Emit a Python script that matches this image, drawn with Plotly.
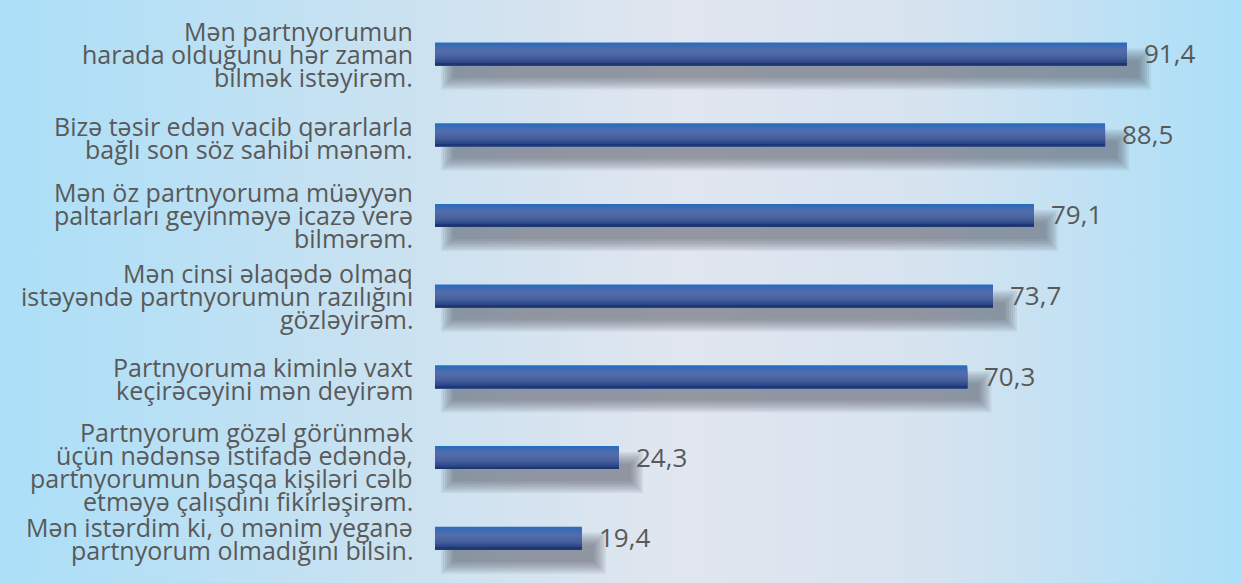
import base64
import plotly.graph_objects as go

labels = [
    ["Mən partnyorumun", "harada olduğunu hər zaman", "bilmək istəyirəm."],
    ["Bizə təsir edən vacib qərarlarla", "bağlı son söz sahibi mənəm."],
    ["Mən öz partnyoruma müəyyən", "paltarları geyinməyə icazə verə", "bilmərəm."],
    ["Mən cinsi əlaqədə olmaq", "istəyəndə partnyorumun razılığını", "gözləyirəm."],
    ["Partnyoruma kiminlə vaxt", "keçirəcəyini mən deyirəm"],
    ["Partnyorum gözəl görünmək", "üçün nədənsə istifadə edəndə,", "partnyorumun başqa kişiləri cəlb", "etməyə çalışdını fikirləşirəm."],
    ["Mən istərdim ki, o mənim yeganə", "partnyorum olmadığını bilsin."],
]
values = [91.4, 88.5, 79.1, 73.7, 70.3, 24.3, 19.4]
value_text = ["91,4", "88,5", "79,1", "73,7", "70,3", "24,3", "19,4"]

W, H = 1241, 583
X0 = 435
PPU = (1127 - X0) / 91.4          # pixels per unit on x
XMAX = (W - X0) / PPU
SP = 80.7                          # pixels per category
R0 = -54 / SP
R1 = R0 + H / SP
BAR_H = 23 / SP
ypos = list(range(len(values)))

fig = go.Figure()

# shadows (blurred by layering)
sx = 15 / PPU
sy = 15 / SP
for e in [9, 7, 5, 3, 1, -1, -3]:
    ex = e / PPU
    ey = e / SP
    fig.add_trace(go.Bar(
        orientation="h", y=ypos, x=[v + 2 * ex for v in values],
        base=[sx - ex] * len(values),
        width=BAR_H + 2 * ey, offset=-BAR_H / 2 + sy - ey,
        marker=dict(color="rgba(70,78,88,0.095)", line=dict(width=0)),
        hoverinfo="skip", showlegend=False))

# bars with vertical gradient built from overlapping strips
stops = [(0.0, (26, 112, 198)), (0.1, (56, 106, 182)), (0.35, (84, 110, 172)),
         (0.65, (70, 96, 158)), (0.88, (42, 68, 132)), (1.0, (22, 48, 108))]


def col(t):
    for (t0, c0), (t1, c1) in zip(stops[:-1], stops[1:]):
        if t0 <= t <= t1:
            f = (t - t0) / (t1 - t0)
            return "rgb(%d,%d,%d)" % tuple(round(a + (b - a) * f) for a, b in zip(c0, c1))
    return "rgb(%d,%d,%d)" % stops[-1][1]


N = 12
for k in range(N):
    fig.add_trace(go.Bar(
        orientation="h", y=ypos, x=values,
        width=BAR_H * (1 - k / N), offset=-BAR_H / 2 + k * BAR_H / N,
        marker=dict(color=col((k + 0.5) / N), line=dict(width=0)),
        hoverinfo="skip", showlegend=False))

annotations = []
LS = 23.0
FS = 25
extra = {1: -3, 4: -2, 5: -9}
for i, lines in enumerate(labels):
    n = len(lines)
    for j, line in enumerate(lines):
        annotations.append(dict(
            xref="paper", yref="y", x=415 / W, y=i, xanchor="right", yanchor="middle",
            text=line, showarrow=False,
            yshift=-(j - (n - 1) / 2) * LS + extra.get(i, 0),
            font=dict(family="Open Sans", size=FS, color="#595959")))
for i, (v, t) in enumerate(zip(values, value_text)):
    annotations.append(dict(
        xref="x", yref="y", x=v, y=i, xanchor="left", yanchor="middle",
        text=t, showarrow=False, xshift=15, yshift=1,
        font=dict(family="Open Sans", size=FS + 1, color="#595959")))

svg = f'''<svg xmlns="http://www.w3.org/2000/svg" width="{W}" height="{H}">
<defs><linearGradient id="g" x1="0" y1="0" x2="1" y2="0">
<stop offset="0" stop-color="#abdff8"/>
<stop offset="0.35" stop-color="#cde2f0"/>
<stop offset="0.55" stop-color="#e1e6ef"/>
<stop offset="0.75" stop-color="#d6e3ef"/>
<stop offset="1" stop-color="#abdff8"/>
</linearGradient></defs>
<rect width="{W}" height="{H}" fill="url(#g)"/></svg>'''
src = "data:image/svg+xml;base64," + base64.b64encode(svg.encode()).decode()

fig.update_layout(
    width=W, height=H,
    margin=dict(l=0, r=0, t=0, b=0),
    barmode="overlay",
    paper_bgcolor="#d6e3ef", plot_bgcolor="rgba(0,0,0,0)",
    xaxis=dict(domain=[X0 / W, 1], range=[0, XMAX], visible=False, fixedrange=True),
    yaxis=dict(range=[R1, R0], visible=False, fixedrange=True),
    annotations=annotations,
    images=[dict(source=src, xref="paper", yref="paper", x=0, y=1, sizex=1, sizey=1,
                 xanchor="left", yanchor="top", sizing="stretch", layer="below")],
    showlegend=False,
)

fig.write_html("out.html", config={"displayModeBar": False},
               post_script="document.body.style.margin='0';document.body.style.overflow='hidden';")
